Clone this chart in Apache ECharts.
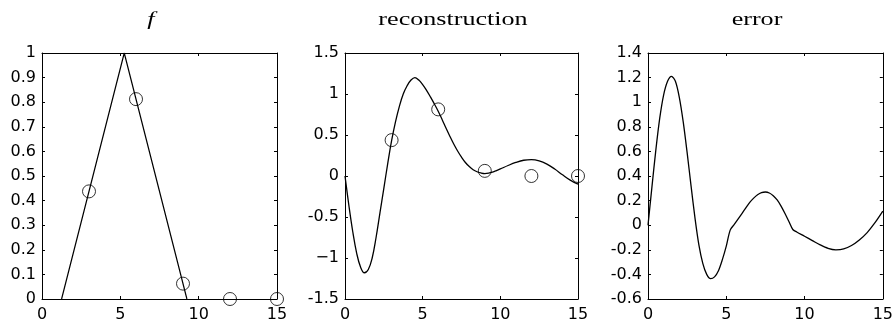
<!DOCTYPE html>
<html><head><meta charset="utf-8">
<script src="https://cdn.jsdelivr.net/npm/echarts@6/dist/echarts.min.js"></script>
<style>html,body{margin:0;padding:0;background:#fff}#c{width:896px;height:329px}</style>
</head><body><div id="c"></div>
<script>
const titles = ['f', 'reconstruction', 'error'];
const xTicks = ['0', '5', '10', '15'];
const yTicks1 = ['0', '0.1', '0.2', '0.3', '0.4', '0.5', '0.6', '0.7', '0.8', '0.9', '1'];
const yTicks2 = ['-1.5', '\u22121', '-0.5', '0', '0.5', '1', '1.5'];
const yTicks3 = ['-0.6', '-0.4', '-0.2', '0', '0.2', '0.4', '0.6', '0.8', '1', '1.2', '1.4'];

const fX = [1.25, 5.25, 9.25];
const fY = [0, 1, 0];
const sampleX = [3, 6, 9, 12, 15];
const sampleY = [0.4375, 0.8125, 0.0625, 0, 0];

const reconX = [0, 0.25, 0.5, 0.75, 1, 1.25, 1.5, 1.75, 2, 2.25, 2.5, 2.75, 3, 3.25, 3.5, 3.75, 4, 4.25, 4.5, 4.75, 5, 5.25, 5.5, 5.75, 6, 6.25, 6.5, 6.75, 7, 7.25, 7.5, 7.75, 8, 8.25, 8.5, 8.75, 9, 9.25, 9.5, 9.75, 10, 10.5, 11, 11.5, 12, 12.5, 13, 13.5, 14, 14.5, 15];
const reconY = [0, -0.36, -0.68, -0.94, -1.11, -1.18, -1.14, -1.0, -0.75, -0.45, -0.15, 0.15, 0.43, 0.66, 0.85, 1.0, 1.1, 1.17, 1.2, 1.17, 1.115, 1.045, 0.965, 0.88, 0.79, 0.69, 0.585, 0.485, 0.39, 0.305, 0.23, 0.165, 0.115, 0.077, 0.052, 0.037, 0.03, 0.035, 0.048, 0.066, 0.086, 0.128, 0.165, 0.192, 0.2, 0.185, 0.145, 0.085, 0.015, -0.05, -0.1];

const errorX = [0, 0.25, 0.5, 0.75, 1, 1.25, 1.5, 1.75, 2, 2.25, 2.5, 2.75, 3, 3.25, 3.5, 3.75, 4, 4.25, 4.5, 4.75, 5, 5.25, 5.5, 5.75, 6, 6.25, 6.5, 6.75, 7, 7.25, 7.5, 7.75, 8, 8.25, 8.5, 8.75, 9, 9.25, 9.5, 10, 10.5, 11, 11.5, 12, 12.5, 13, 13.5, 14, 14.5, 15];
const errorY = [0, 0.31, 0.61, 0.87, 1.06, 1.17, 1.21, 1.17, 1.04, 0.84, 0.59, 0.32, 0.06, -0.16, -0.31, -0.4, -0.435, -0.42, -0.37, -0.28, -0.17, -0.04, 0.005, 0.05, 0.095, 0.14, 0.185, 0.22, 0.248, 0.265, 0.27, 0.262, 0.24, 0.205, 0.155, 0.095, 0.03, -0.035, -0.055, -0.09, -0.125, -0.16, -0.188, -0.2, -0.193, -0.165, -0.12, -0.06, 0.02, 0.114];

const zip = (a, b) => a.map((v, i) => [v, b[i]]);

const grids = [
  {left: 42, top: 53, width: 235, height: 246},
  {left: 345, top: 53, width: 233, height: 246},
  {left: 648, top: 53, width: 236, height: 246}
];
const yRanges = [[0, 1, 0.1, yTicks1], [-1.5, 1.5, 0.5, yTicks2], [-0.6, 1.4, 0.2, yTicks3]];
const titleX = [151, 453, 757];

const lbl = {color: '#000', fontFamily: 'DejaVu Sans', fontSize: 16};
const line = {show: true, onZero: false, lineStyle: {color: '#000', width: 1}};
const tick = {show: true, inside: true, length: 3, lineStyle: {color: '#000', width: 1}};

const xAxis = [], yAxis = [];
grids.forEach((g, i) => {
  xAxis.push({type: 'value', gridIndex: i, position: 'bottom', min: 0, max: 15, interval: 5,
    axisLine: line, axisTick: tick, splitLine: {show: false},
    axisLabel: Object.assign({margin: 8, formatter: (v, idx) => xTicks[idx]}, lbl)});
  xAxis.push({type: 'value', gridIndex: i, position: 'top', min: 0, max: 15, interval: 5,
    axisLine: line, axisTick: tick, splitLine: {show: false}, axisLabel: {show: false}});
  const [mn, mx, iv, labels] = yRanges[i];
  yAxis.push({type: 'value', gridIndex: i, position: 'left', min: mn, max: mx, interval: iv,
    axisLine: line, axisTick: tick, splitLine: {show: false},
    axisLabel: Object.assign({margin: 6, formatter: (v, idx) => labels[idx]}, lbl)});
  yAxis.push({type: 'value', gridIndex: i, position: 'right', min: mn, max: mx, interval: iv,
    axisLine: line, axisTick: tick, splitLine: {show: false}, axisLabel: {show: false}});
});

const circ = {type: 'scatter', symbol: 'circle', symbolSize: 13, clip: false,
  itemStyle: {color: 'rgba(0,0,0,0)', borderColor: '#000', borderWidth: 1}};

const series = [
  {type: 'line', xAxisIndex: 0, yAxisIndex: 0, data: zip(fX, fY), showSymbol: false,
    lineStyle: {color: '#000', width: 1.2}},
  Object.assign({xAxisIndex: 0, yAxisIndex: 0, data: zip(sampleX, sampleY)}, circ),
  {type: 'line', xAxisIndex: 2, yAxisIndex: 2, data: zip(reconX, reconY), showSymbol: false,
    smooth: 0.4, lineStyle: {color: '#000', width: 1.3}},
  Object.assign({xAxisIndex: 2, yAxisIndex: 2, data: zip(sampleX, sampleY)}, circ),
  {type: 'line', xAxisIndex: 4, yAxisIndex: 4, data: zip(errorX, errorY), showSymbol: false,
    smooth: 0.3, lineStyle: {color: '#000', width: 1.3}}
];

const graphic = titles.map((t, i) => ({
  type: 'text', x: titleX[i], y: 29, scaleX: 1.45,
  style: {text: t, fill: '#000', textAlign: 'center', align: 'center',
    textVerticalAlign: 'bottom', verticalAlign: 'bottom',
    font: (i === 0 ? 'italic ' : '') + '18px "Liberation Serif"'}
}));

const chart = echarts.init(document.getElementById('c'), null, {renderer: 'canvas'});
chart.setOption({animation: false, backgroundColor: '#fff', grid: grids, xAxis, yAxis, series, graphic});
</script></body></html>
